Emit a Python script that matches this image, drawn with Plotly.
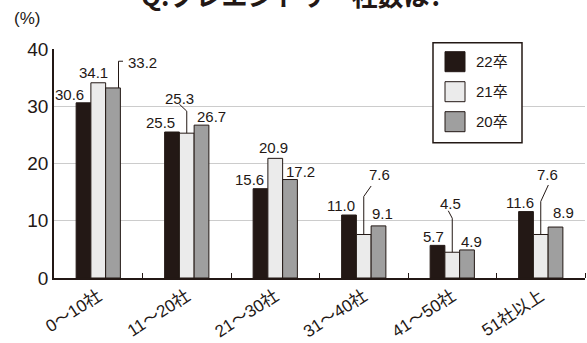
import plotly.graph_objects as go

# ---------------- data ----------------
categories = ["0～10社", "11～20社", "21～30社", "31～40社", "41～50社", "51社以上"]
series_names = ["22卒", "21卒", "20卒"]
values_22 = [30.6, 25.5, 15.6, 11.0, 5.7, 11.6]
values_21 = [34.1, 25.3, 20.9, 7.6, 4.5, 7.6]
values_20 = [33.2, 26.7, 17.2, 9.1, 4.9, 8.9]
y_ticks = [0, 10, 20, 30, 40]

series_values = [values_22, values_21, values_20]
colors = ["#231815", "#ebebeb", "#9f9f9f"]
INK = "#231815"
FONT = "Liberation Sans, Arial, Noto Sans CJK JP, sans-serif"
CJK = "Noto Sans CJK JP, sans-serif"

W, H = 587, 343
ML, MR, MT, MB = 54, 2, 49, 65
PW, PH = W - ML - MR, H - MT - MB
BARGAP = 0.5
bw = (1 - BARGAP) / 3


def px(xp):
    return (xp - ML) / PW


def py(yp):
    return (H - MB - yp) / PH


fig = go.Figure()
xs = list(range(len(categories)))
for name, vals, col in zip(series_names, series_values, colors):
    fig.add_trace(go.Bar(x=xs, y=vals, name=name, marker=dict(color=col, line=dict(color=INK, width=1)),
                         showlegend=False, hoverinfo="skip"))

# label placement (pixel offsets of text centre from bar top centre; dy up)
offsets = {
    0: [(-13.6, 8), (-12, 10), (-11.5, 9), (-7.8, 9.3), (-4, 8.6), (-6.3, 8.8)],
    1: [(-5, 10.5), None, (-1.8, 11), None, None, None],
    2: [None, (9.7, 8.5), (10.5, 7.7), (4, 12.6), (4, 8.2), (7.7, 15)],
}
# leaders: (path points, text dx, dy, xanchor)
leaders = {
    (2, 0): ([(5.5, 0), (5.5, 26.7), (10, 26.7)], 12.5, 25, "left"),
    (1, 1): ([(0, 0), (0, 22), (-7.4, 29)], -7.5, 35, "center"),
    (1, 3): ([(0, 0), (0, 38), (7.4, 48.5)], 15.4, 59.5, "center"),
    (1, 4): ([(0, 0), (0, 34), (-4, 41.5)], -2.2, 49, "center"),
    (1, 5): ([(0, 0), (0, 33), (7.6, 49.5)], 7.2, 59.5, "center"),
}

annotations = []
shapes = []
for j, vals in enumerate(series_values):
    for i, v in enumerate(vals):
        xc = i + (j - 1) * bw
        if (j, i) in leaders:
            pts, dx, dy, xa = leaders[(j, i)]
            path = "M" + " L".join(f"{a},{b}" for a, b in pts)
            shapes.append(dict(type="path", xref="x", yref="y", xsizemode="pixel", ysizemode="pixel",
                               xanchor=xc, yanchor=v, path=path, line=dict(color=INK, width=1)))
        else:
            dx, dy = offsets[j][i]
            xa = "center"
        annotations.append(dict(x=xc, y=v, xref="x", yref="y", text=f"{v:.1f}", showarrow=False,
                                xanchor=xa, yanchor="middle", xshift=dx, yshift=dy,
                                font=dict(family=FONT, size=15, color=INK)))

# custom legend
shapes.append(dict(type="rect", xref="paper", yref="paper", x0=px(433), x1=px(522), y0=py(142.7), y1=py(42.7),
                   fillcolor="white", line=dict(color=INK, width=1.5), layer="above"))
for k, (name, col) in enumerate(zip(series_names, colors)):
    cy = 61.7 + k * 30
    shapes.append(dict(type="rect", xref="paper", yref="paper", x0=px(445), x1=px(465), y0=py(cy + 10), y1=py(cy - 10),
                       fillcolor=col, line=dict(color=INK, width=1), layer="above"))
    annotations.append(dict(x=px(474), y=py(cy), xref="paper", yref="paper", text=name, showarrow=False,
                            xanchor="left", yanchor="middle", font=dict(family=FONT, size=15, color=INK)))

# title (cropped at top, as in the source image) and unit
annotations.append(dict(x=px(292), y=py(-5), xref="paper", yref="paper", text="<b>Q.プレエントリー社数は?</b>",
                        showarrow=False, xanchor="center", yanchor="middle",
                        font=dict(family=CJK, size=26, color=INK)))
annotations.append(dict(x=px(27), y=py(19), xref="paper", yref="paper", text="(%)", showarrow=False,
                        xanchor="center", yanchor="middle", font=dict(family=FONT, size=17, color=INK)))

fig.update_layout(
    width=W, height=H, margin=dict(l=ML, r=MR, t=MT, b=MB),
    paper_bgcolor="white", plot_bgcolor="white",
    barmode="group", bargap=BARGAP, bargroupgap=0,
    showlegend=False,
    annotations=annotations, shapes=shapes,
    xaxis=dict(range=[-0.5, len(categories) - 0.5], tickvals=xs, ticktext=categories, tickangle=-33,
               ticks="", showgrid=False, showline=True, linecolor=INK, linewidth=1.5, automargin=False,
               tickfont=dict(family=FONT, size=17, color=INK),
               minor=dict(tickvals=[i + 0.5 for i in xs], ticks="inside", ticklen=5, tickcolor=INK, showgrid=False),
               fixedrange=True),
    yaxis=dict(range=[0, 40], tickvals=y_ticks, showgrid=True, gridcolor="#cccccc", gridwidth=1,
               showline=True, linecolor=INK, linewidth=1.5, ticks="", zeroline=False, automargin=False,
               tickfont=dict(family=FONT, size=19, color=INK), fixedrange=True),
)

fig.write_html("out.html", config={"displayModeBar": False})
